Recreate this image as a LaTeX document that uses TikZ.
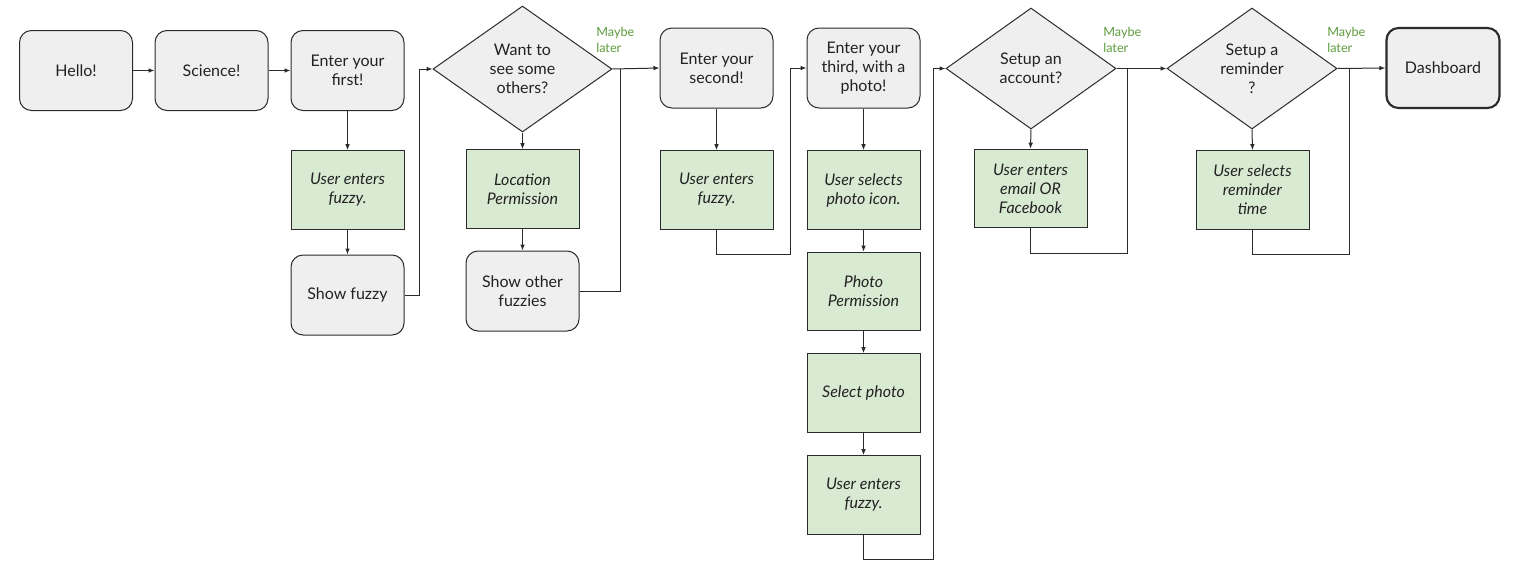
\documentclass[tikz,border=0pt]{standalone}
\usepackage{fontspec}
\setmainfont{Lato}
\usetikzlibrary{shapes.geometric,arrows.meta}
\definecolor{boxgray}{HTML}{EFEFEF}
\definecolor{boxgreen}{HTML}{D9EAD3}
\definecolor{edge}{HTML}{2B2B2B}
\definecolor{txt}{HTML}{222222}
\definecolor{later}{HTML}{5E9C3C}
\tikzset{
  base/.style={draw=edge, line width=0.75pt, text=txt, align=center, inner sep=0pt,
    font=\fontsize{12}{14.25}\selectfont},
  gbox/.style={base, fill=boxgray, rounded corners=9pt, minimum width=84.75pt, minimum height=60pt},
  abox/.style={base, fill=boxgreen, minimum width=84.75pt, minimum height=59pt, font=\fontsize{12}{14.25}\selectfont\itshape},
  dec/.style={base, fill=boxgray, diamond, aspect=1.41},
  later/.style={text=later, align=left, inner sep=0pt, anchor=west, font=\fontsize{9.5}{12}\selectfont},
  arr/.style={draw=edge, line width=0.75pt, -{Latex[length=4.5pt,width=3.5pt]}},
  ln/.style={draw=edge, line width=0.75pt},
}
\begin{document}
\begin{tikzpicture}[x=0.75pt,y=-0.75pt]
\useasboundingbox (0,0) rectangle (1522,586);
% row 1
\node[gbox] (hello) at (76,70.5) {Hello!};
\node[gbox] (science) at (211.5,70.5) {Science!};
\node[gbox] (first) at (347.5,70.5) {Enter your\\first!};
\node[abox] (ue1) at (347.5,190) {User enters\\fuzzy.};
\node[gbox] (show1) at (347.5,295) {Show fuzzy};
\node[dec, minimum width=134.25pt, minimum height=94.5pt] (d1) at (522.5,69) {Want to\\see some\\others?};
\node[later] (ml1) at (596,40) {Maybe\\later};
\node[abox] (loc) at (522.5,189) {Location\\Permission};
\node[gbox] (show2) at (522.5,291) {Show other\\fuzzies};
\node[gbox] (second) at (716.5,68) {Enter your\\second!};
\node[abox] (ue2) at (716.5,190) {User enters\\fuzzy.};
\node[gbox] (third) at (863.5,68) {Enter your\\third, with a\\photo!};
\node[abox] (sel) at (863.5,190) {User selects\\photo icon.};
\node[abox] (pperm) at (863.5,291.5) {Photo\\Permission};
\node[abox] (selph) at (863.5,393) {Select photo};
\node[abox] (ue3) at (863.5,495) {User enters\\fuzzy.};
\node[dec, minimum width=127.5pt, minimum height=90.75pt] (d2) at (1031,68.5) {Setup an\\account?};
\node[later] (ml2) at (1103,40) {Maybe\\later};
\node[abox] (email) at (1030.5,188.5) {User enters\\email OR\\Facebook};
\node[dec, minimum width=127.5pt, minimum height=90.75pt] (d3) at (1252,68.5) {Setup a\\reminder\\?};
\node[later] (ml3) at (1327,40) {Maybe\\later};
\node[abox] (rem) at (1252.5,190) {User selects\\reminder\\time};
\node[gbox, line width=1.6pt] (dash) at (1443,68) {Dashboard};
% junction coordinates
\coordinate (j1) at (419,69);
\coordinate (j2) at (620,69);
\coordinate (j3) at (790,68);
\coordinate (j4) at (933,68.5);
\coordinate (j5) at (1127,68.5);
\coordinate (j6) at (1349,68.5);
% connectors
\draw[arr] (hello) -- (science);
\draw[arr] (science) -- (first);
\draw[arr] (first) -- (ue1);
\draw[arr] (ue1) -- (show1);
\draw[arr] (show1.east) -| (j1) -- (d1.west);
\draw[arr] (d1.south) -- (loc.north);
\draw[arr] (loc) -- (show2);
\draw[arr] (d1.east) -- (second.west);
\draw[ln] (show2.east) -| (j2);
\draw[arr] (second) -- (ue2);
\draw[arr] (ue2.south) -- ++(0,25) -| (j3) -- (third.west);
\draw[arr] (third) -- (sel);
\draw[arr] (sel) -- (pperm);
\draw[arr] (pperm) -- (selph);
\draw[arr] (selph) -- (ue3);
\draw[arr] (ue3.south) -- ++(0,25) -| (j4) -- (d2.west);
\draw[arr] (d2.south) -- (email.north);
\draw[arr] (d2.east) -- (d3.west);
\draw[ln] (email.south) -- ++(0,25) -| (j5);
\draw[arr] (d3.south) -- (rem.north);
\draw[arr] (d3.east) -- (dash.west);
\draw[ln] (rem.south) -- ++(0,25) -| (j6);
\end{tikzpicture}
\end{document}
